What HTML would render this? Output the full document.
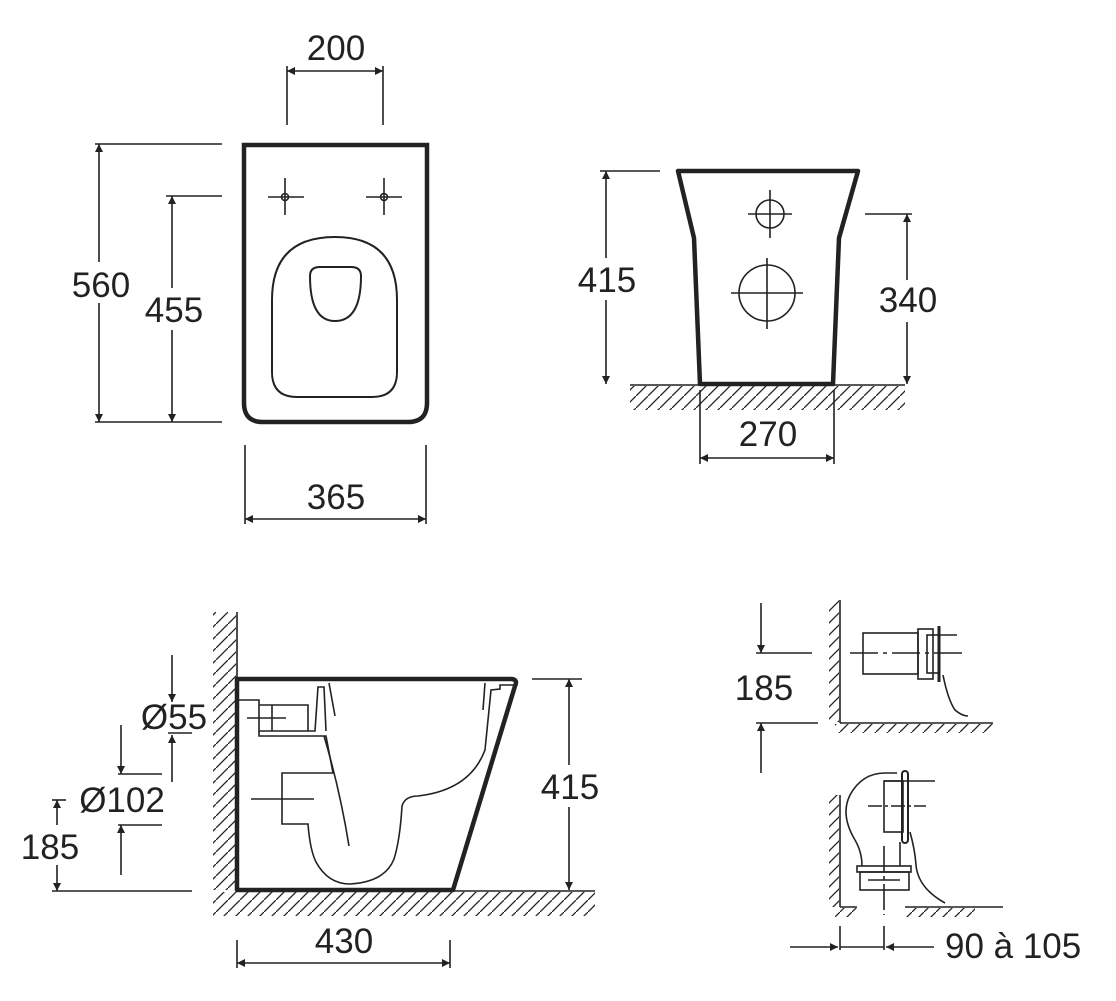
<!DOCTYPE html>
<html><head><meta charset="utf-8"><style>
html,body{margin:0;padding:0;background:#fff;}
svg{display:block;}
text{font-family:"Liberation Sans",sans-serif;font-size:35px;fill:#222;}
</style></head><body>
<svg width="1116" height="1001" viewBox="0 0 1116 1001" xmlns="http://www.w3.org/2000/svg">
<defs>
<pattern id="h" width="12" height="12" patternUnits="userSpaceOnUse">
<line x1="0" y1="12" x2="12" y2="0" stroke="#222" stroke-width="1.3"/>
</pattern>
<marker id="a" viewBox="0 0 10 10" refX="10" refY="5" markerWidth="16" markerHeight="8" markerUnits="userSpaceOnUse" orient="auto-start-reverse">
<path d="M0,0 L10,5 L0,10 z" fill="#222"/>
</marker>
</defs>
<g stroke="#222" fill="none" stroke-width="1.6">

<!-- PLAN VIEW -->
<path d="M244,145 H427 V403 Q427,422 408,422 H263 Q244,422 244,403 Z" stroke-width="4.5"/>
<path d="M272,300 Q272,237 335,237 Q397,237 397,300 V372 Q397,397 372,397 H297 Q272,397 272,372 Z" stroke-width="2"/>
<path d="M310,276 Q310,267 320,267 H351 Q361,267 361,276 Q361,321 335,321 Q310,321 310,276 Z" stroke-width="2"/>
<line x1="268" y1="197" x2="304" y2="197"/><line x1="285" y1="178" x2="285" y2="215"/><circle cx="285" cy="197" r="3.5"/>
<line x1="366" y1="197" x2="402" y2="197"/><line x1="384" y1="178" x2="384" y2="215"/><circle cx="384" cy="197" r="3.5"/>
<line x1="287" y1="66" x2="287" y2="125"/><line x1="383" y1="66" x2="383" y2="125"/>
<line x1="287" y1="71" x2="383" y2="71" marker-start="url(#a)" marker-end="url(#a)"/>
<line x1="95" y1="144" x2="222" y2="144"/><line x1="95" y1="422" x2="222" y2="422"/>
<line x1="166" y1="196" x2="222" y2="196"/>
<line x1="99" y1="144" x2="99" y2="262" marker-start="url(#a)"/><line x1="99" y1="303" x2="99" y2="422" marker-end="url(#a)"/>
<line x1="172" y1="196" x2="172" y2="288" marker-start="url(#a)"/><line x1="172" y1="330" x2="172" y2="422" marker-end="url(#a)"/>
<line x1="245" y1="445" x2="245" y2="524"/><line x1="426" y1="445" x2="426" y2="524"/>
<line x1="245" y1="519" x2="426" y2="519" marker-start="url(#a)" marker-end="url(#a)"/>

<!-- FRONT VIEW -->
<path d="M678,171 H858 L839,238 L833,384 H700 L694,238 Z" stroke-width="4.5" stroke-linejoin="round"/>
<rect x="630" y="386" width="275" height="24" fill="url(#h)" stroke="none"/>
<line x1="630" y1="385" x2="905" y2="385"/>
<circle cx="770" cy="214" r="14"/><line x1="748" y1="214" x2="792" y2="214"/><line x1="770" y1="190" x2="770" y2="238"/>
<circle cx="767" cy="293" r="28"/><line x1="731" y1="293" x2="803" y2="293"/><line x1="767" y1="258" x2="767" y2="329"/>
<line x1="600" y1="171" x2="660" y2="171"/>
<line x1="606" y1="171" x2="606" y2="258" marker-start="url(#a)"/><line x1="606" y1="300" x2="606" y2="384" marker-end="url(#a)"/>
<line x1="865" y1="214" x2="912" y2="214"/>
<line x1="907" y1="214" x2="907" y2="280" marker-start="url(#a)"/><line x1="907" y1="322" x2="907" y2="384" marker-end="url(#a)"/>
<line x1="700" y1="390" x2="700" y2="464"/><line x1="834" y1="390" x2="834" y2="464"/>
<line x1="700" y1="458" x2="834" y2="458" marker-start="url(#a)" marker-end="url(#a)"/>

<!-- SIDE VIEW -->
<rect x="213" y="612" width="23" height="278" fill="url(#h)" stroke="none"/>
<rect x="213" y="892" width="382" height="24" fill="url(#h)" stroke="none"/>
<line x1="237" y1="612" x2="237" y2="890"/>
<line x1="237" y1="891" x2="595" y2="891"/>
<path d="M237,679 H512 Q518,680 515,686 L453,890 H237 Z" stroke-width="4.5" stroke-linejoin="round"/>
<path d="M239,700 H259 V731 H308 V705 H259"/>
<line x1="272" y1="705" x2="272" y2="731"/>
<line x1="247" y1="718" x2="286" y2="718"/>
<path d="M259,731 V736 H326 L333,773 H282 V824 H308 Q310,850 316,862 Q328,884 350,884 Q385,882 394,859 Q400,840 402,806 Q405,796 418,796 Q470,790 485,750 L491,690 L500,689 V685 L515,685"/>
<path d="M308,731 H315 L318,687 H324 L326,731"/>
<path d="M329,683 L335,716"/>
<path d="M324,736 Q340,790 349,846"/>
<path d="M485,683 L483,710"/>
<line x1="251" y1="799" x2="314" y2="799"/>
<line x1="532" y1="679" x2="582" y2="679"/>
<line x1="569" y1="679" x2="569" y2="765" marker-start="url(#a)"/><line x1="569" y1="807" x2="569" y2="890" marker-end="url(#a)"/>
<line x1="237" y1="940" x2="237" y2="968"/><line x1="450" y1="940" x2="450" y2="968"/>
<line x1="237" y1="963" x2="450" y2="963" marker-start="url(#a)" marker-end="url(#a)"/>
<line x1="168" y1="733" x2="192" y2="733"/>
<line x1="172" y1="655" x2="172" y2="702" marker-end="url(#a)"/>
<line x1="172" y1="782" x2="172" y2="735" marker-end="url(#a)"/>
<line x1="118" y1="774" x2="162" y2="774"/><line x1="118" y1="825" x2="162" y2="825"/>
<line x1="121" y1="725" x2="121" y2="774" marker-end="url(#a)"/>
<line x1="121" y1="875" x2="121" y2="825" marker-end="url(#a)"/>
<line x1="52" y1="800" x2="66" y2="800"/><line x1="52" y1="891" x2="192" y2="891"/>
<line x1="57" y1="825" x2="57" y2="800" marker-end="url(#a)"/>
<line x1="57" y1="865" x2="57" y2="891" marker-end="url(#a)"/>

<!-- SMALL UPPER -->
<rect x="829" y="600" width="10" height="122" fill="url(#h)" stroke="none"/>
<rect x="835" y="724" width="158" height="9" fill="url(#h)" stroke="none"/>
<line x1="840" y1="600" x2="840" y2="723"/><line x1="840" y1="723" x2="993" y2="723"/>
<rect x="863" y="633" width="55" height="41"/>
<rect x="918" y="629" width="15" height="50"/>
<rect x="927" y="635" width="12" height="38"/>
<line x1="939" y1="626" x2="939" y2="682" stroke-width="3"/>
<line x1="850" y1="653" x2="963" y2="653" stroke-dasharray="28,5,4,5"/>
<line x1="939" y1="635" x2="957" y2="635"/>
<path d="M943,675 Q948,700 955,710 Q962,716 968,716"/>
<line x1="761" y1="603" x2="761" y2="653" marker-end="url(#a)"/>
<line x1="756" y1="653" x2="812" y2="653"/><line x1="756" y1="723" x2="818" y2="723"/>
<line x1="761" y1="773" x2="761" y2="723" marker-end="url(#a)"/>

<!-- SMALL LOWER -->
<rect x="829" y="795" width="10" height="112" fill="url(#h)" stroke="none"/>
<rect x="835" y="908" width="22" height="9" fill="url(#h)" stroke="none"/>
<rect x="905" y="908" width="70" height="9" fill="url(#h)" stroke="none"/>
<line x1="840" y1="795" x2="840" y2="907"/>
<line x1="840" y1="907" x2="857" y2="907"/><line x1="905" y1="907" x2="1003" y2="907"/>
<path d="M897,773 H885 Q862,773 850,795 Q840,815 855,840 Q862,852 862,866"/>
<line x1="900" y1="842" x2="900" y2="866"/>
<rect x="857" y="866" width="54" height="6"/>
<rect x="860" y="872" width="49" height="18"/>
<rect x="884" y="781" width="19" height="51"/>
<rect x="902" y="771" width="6" height="72" rx="3" stroke-width="2"/>
<line x1="884" y1="781" x2="935" y2="781"/>
<line x1="868" y1="806" x2="926" y2="806" stroke-dasharray="14,3,3,3"/>
<line x1="884" y1="846" x2="884" y2="915" stroke-dasharray="26,4,4,4"/>
<line x1="868" y1="880" x2="900" y2="880"/>
<path d="M910,832 Q915,850 916,865 Q918,888 945,903"/>
<line x1="840" y1="926" x2="840" y2="950"/><line x1="884" y1="926" x2="884" y2="950"/>
<line x1="790" y1="947" x2="838" y2="947" marker-end="url(#a)"/>
<line x1="934" y1="947" x2="886" y2="947" marker-end="url(#a)"/>
<line x1="840" y1="947" x2="884" y2="947"/>
</g>

<g text-anchor="middle">
<text x="336" y="60">200</text>
<text x="101" y="297">560</text>
<text x="174" y="322">455</text>
<text x="336" y="509">365</text>
<text x="607" y="292">415</text>
<text x="908" y="312">340</text>
<text x="768" y="446">270</text>
<text x="570" y="799">415</text>
<text x="344" y="953">430</text>
<text x="174" y="729">Ø55</text>
<text x="122" y="812">Ø102</text>
<text x="50" y="859">185</text>
<text x="764" y="700">185</text>
</g>
<text x="945" y="958">90 à 105</text>
</svg>
</body></html>
